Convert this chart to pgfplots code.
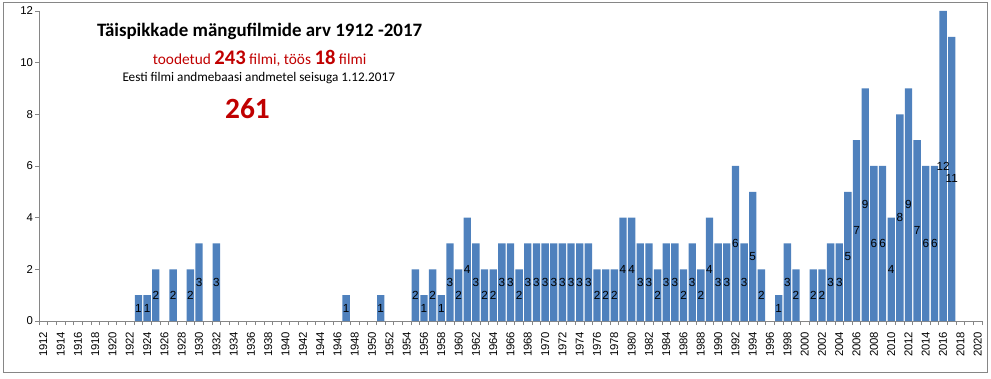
\documentclass[border=0pt]{standalone}
\usepackage{pgfplots}
\pgfplotsset{compat=1.18}
\usepackage{fontspec}
\setmainfont{Carlito}
\newfontfamily\tickfont{Liberation Sans}
\definecolor{barblue}{RGB}{79,129,189}
\definecolor{axgray}{RGB}{134,134,134}
\definecolor{darkred}{RGB}{192,0,0}
\begin{document}
\begin{tikzpicture}
\begin{axis}[
  at={(0,0)}, anchor=south west,
  scale only axis, width=707.25pt, height=232.5pt,
  xmin=1911.5, xmax=2020.5, ymin=0, ymax=12,
  axis x line*=bottom, axis y line*=left,
  axis line style={axgray, line width=0.6pt},
  /pgf/number format/assume math mode=true,
  /pgf/number format/1000 sep={},
  xtick={1912,1914,...,2020},
  ytick={0,2,...,12},
  minor xtick={1911.5,1912.5,...,2020.5},
  minor ytick={0,2,...,12},
  major tick length=0pt,
  minor tick length=3pt,
  tick align=outside,
  every minor tick/.style={axgray, line width=0.6pt},
  tick label style={font=\tickfont\fontsize{8.5}{10}\selectfont, black},
  x tick label style={rotate=90, anchor=east, xshift=-4.5pt},
  y tick label style={xshift=-1pt},
  ybar, bar width=0.85,
]
\addplot[fill=barblue, draw=none,
  visualization depends on=rawy \as \rawy,
  nodes near coords,
  every node near coord/.append style={font=\tickfont\fontsize{8.8}{10}\selectfont, black, anchor=center, inner sep=0pt, shift={(axis direction cs:0,-\rawy/2)}},
] coordinates {
(1923,1) (1924,1) (1925,2) (1927,2) (1929,2) (1930,3) (1932,3)
(1947,1) (1951,1)
(1955,2) (1956,1) (1957,2) (1958,1) (1959,3) (1960,2) (1961,4) (1962,3) (1963,2) (1964,2) (1965,3) (1966,3) (1967,2)
(1968,3) (1969,3) (1970,3) (1971,3) (1972,3) (1973,3) (1974,3) (1975,3)
(1976,2) (1977,2) (1978,2) (1979,4) (1980,4)
(1981,3) (1982,3) (1983,2) (1984,3) (1985,3) (1986,2) (1987,3) (1988,2) (1989,4) (1990,3) (1991,3) (1992,6) (1993,3) (1994,5) (1995,2)
(1997,1) (1998,3) (1999,2)
(2001,2) (2002,2) (2003,3) (2004,3)
(2005,5) (2006,7) (2007,9) (2008,6) (2009,6) (2010,4) (2011,8) (2012,9) (2013,7) (2014,6) (2015,6) (2016,12) (2017,11)
};
\node[font=\fontsize{14.2}{16}\selectfont\bfseries, inner sep=0pt] at (axis cs:1937.0,11.2) {Täispikkade mängufilmide arv 1912 -2017};
\node[font=\fontsize{11.5}{13}\selectfont, text=darkred, inner sep=0pt] at (axis cs:1937.0,10.17) {toodetud {\fontsize{15.5}{17}\selectfont\bfseries 243} filmi, töös {\fontsize{15.5}{17}\selectfont\bfseries 18} filmi};
\node[font=\fontsize{9.9}{11}\selectfont, inner sep=0pt] at (axis cs:1936.9,9.4) {Eesti filmi andmebaasi andmetel seisuga 1.12.2017};
\node[font=\fontsize{22}{24}\selectfont\bfseries, text=darkred, inner sep=0pt] at (axis cs:1935.6,8.23) {261};
\end{axis}
\draw[axgray, line width=0.75pt] (-26.25pt,-38.25pt) rectangle (711pt,238.5pt);
\pgfresetboundingbox
\path (-29.25pt,-42.75pt) rectangle (714pt,240.75pt);
\end{tikzpicture}
\end{document}
